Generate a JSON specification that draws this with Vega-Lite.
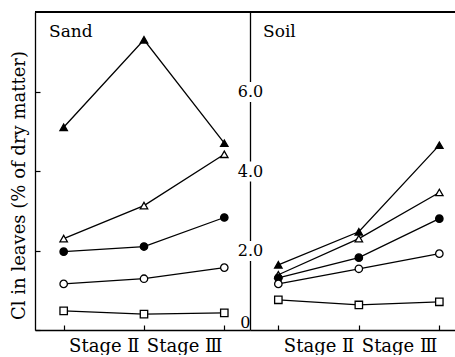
{
  "$schema": "https://vega.github.io/schema/vega-lite/v6.json",
  "padding": {"left": 10, "top": 11, "right": 0, "bottom": 0},
  "bounds": "flush",
  "spacing": 0,
  "config": {
    "view": {"stroke": null},
    "font": "DejaVu Serif",
    "axis": {
      "domainColor": "black", "tickColor": "black", "labelColor": "black", "titleColor": "black",
      "domainWidth": 1.3, "tickWidth": 1.2, "labelFont": "DejaVu Serif", "titleFont": "DejaVu Serif",
      "grid": false, "labelFlush": false, "labelOverlap": false
    },
    "title": {"font": "DejaVu Serif", "fontWeight": "normal", "color": "black"}
  },
  "datasets": {
    "cl": [
      {"medium": "Sand", "series": "▲", "stage": 1, "cl": 5.1},
      {"medium": "Sand", "series": "▲", "stage": 2, "cl": 7.3},
      {"medium": "Sand", "series": "▲", "stage": 3, "cl": 4.7},
      {"medium": "Sand", "series": "△", "stage": 1, "cl": 2.3},
      {"medium": "Sand", "series": "△", "stage": 2, "cl": 3.13},
      {"medium": "Sand", "series": "△", "stage": 3, "cl": 4.42},
      {"medium": "Sand", "series": "●", "stage": 1, "cl": 1.97},
      {"medium": "Sand", "series": "●", "stage": 2, "cl": 2.1},
      {"medium": "Sand", "series": "●", "stage": 3, "cl": 2.83},
      {"medium": "Sand", "series": "○", "stage": 1, "cl": 1.16},
      {"medium": "Sand", "series": "○", "stage": 2, "cl": 1.29},
      {"medium": "Sand", "series": "○", "stage": 3, "cl": 1.57},
      {"medium": "Sand", "series": "□", "stage": 1, "cl": 0.48},
      {"medium": "Sand", "series": "□", "stage": 2, "cl": 0.4},
      {"medium": "Sand", "series": "□", "stage": 3, "cl": 0.43},
      {"medium": "Soil", "series": "▲", "stage": 1, "cl": 1.64},
      {"medium": "Soil", "series": "▲", "stage": 2, "cl": 2.47},
      {"medium": "Soil", "series": "▲", "stage": 3, "cl": 4.65},
      {"medium": "Soil", "series": "△", "stage": 1, "cl": 1.39},
      {"medium": "Soil", "series": "△", "stage": 2, "cl": 2.3},
      {"medium": "Soil", "series": "△", "stage": 3, "cl": 3.46},
      {"medium": "Soil", "series": "●", "stage": 1, "cl": 1.31},
      {"medium": "Soil", "series": "●", "stage": 2, "cl": 1.82},
      {"medium": "Soil", "series": "●", "stage": 3, "cl": 2.8},
      {"medium": "Soil", "series": "○", "stage": 1, "cl": 1.16},
      {"medium": "Soil", "series": "○", "stage": 2, "cl": 1.54},
      {"medium": "Soil", "series": "○", "stage": 3, "cl": 1.92},
      {"medium": "Soil", "series": "□", "stage": 1, "cl": 0.76},
      {"medium": "Soil", "series": "□", "stage": 2, "cl": 0.63},
      {"medium": "Soil", "series": "□", "stage": 3, "cl": 0.71}
    ]
  },
  "hconcat": [
    {
      "width": 215,
      "height": 318,
      "title": {"text": "Sand", "anchor": "start", "frame": "group", "offset": -43, "dx": 14, "baseline": "alphabetic", "fontSize": 17, "font": "DejaVu Serif", "fontWeight": "normal"},
      "data": {"name": "cl"},
      "transform": [{"filter": "datum.medium == 'Sand'"}],
      "layer": [
        {
          "mark": {"type": "rule", "color": "black", "strokeWidth": 1.3},
          "encoding": {"y": {"datum": 8, "type": "quantitative"}}
        },
        {
          "mark": {"type": "line", "color": "black", "strokeWidth": 1.3},
          "encoding": {
            "x": {"field": "stage", "type": "quantitative",
              "scale": {"domain": [0.643, 3.32], "nice": false, "zero": false},
              "axis": {"orient": "bottom", "values": [1, 1.5, 2, 2.5, 3],
                "labelExpr": "datum.value == 1.5 ? 'Stage Ⅱ' : datum.value == 2.5 ? 'Stage Ⅲ' : ''",
                "tickSize": -5,
                "tickOpacity": {"condition": {"test": "datum.value == 1.5 || datum.value == 2.5", "value": 0}, "value": 1},
                "labelPadding": 12, "labelFontSize": 18, "labelFont": "DejaVu Serif", "labelFontWeight": "normal", "title": null}},
            "y": {"field": "cl", "type": "quantitative",
              "scale": {"domain": [0, 8], "nice": false},
              "axis": {"orient": "left", "values": [0, 2, 4, 6], "labels": false, "tickSize": -5,
                "title": "Cl in leaves (% of dry matter)", "titleFontSize": 18, "titleFont": "DejaVu Serif", "titleFontWeight": "normal",
                "titlePadding": 6, "titleY": 173}},
            "detail": {"field": "series"}
          }
        },
        {
          "mark": {"type": "point", "filled": true, "stroke": "black", "strokeWidth": 1.3, "opacity": 1},
          "encoding": {
            "x": {"field": "stage", "type": "quantitative"},
            "y": {"field": "cl", "type": "quantitative"},
            "shape": {"field": "series", "type": "nominal", "legend": null,
              "scale": {"domain": ["▲", "△", "●", "○", "□"], "range": ["triangle-up", "triangle-up", "circle", "circle", "square"]}},
            "fill": {"field": "series", "type": "nominal", "legend": null,
              "scale": {"domain": ["▲", "△", "●", "○", "□"], "range": ["black", "white", "black", "white", "white"]}},
            "size": {"field": "series", "type": "nominal", "legend": null,
              "scale": {"domain": ["▲", "△", "●", "○", "□"], "range": [55, 55, 75, 85, 50]}}
          }
        }
      ]
    },
    {
      "width": 206,
      "height": 318,
      "title": {"text": "Soil", "anchor": "start", "frame": "group", "offset": -43, "dx": 13, "baseline": "alphabetic", "fontSize": 17, "font": "DejaVu Serif", "fontWeight": "normal"},
      "data": {"name": "cl"},
      "transform": [{"filter": "datum.medium == 'Soil'"}],
      "layer": [
        {
          "mark": {"type": "rule", "color": "black", "strokeWidth": 1.3},
          "encoding": {"y": {"datum": 8, "type": "quantitative"}}
        },
        {
          "mark": {"type": "line", "color": "black", "strokeWidth": 1.3},
          "encoding": {
            "x": {"field": "stage", "type": "quantitative",
              "scale": {"domain": [0.648, 3.207], "nice": false, "zero": false},
              "axis": {"orient": "bottom", "values": [1, 1.5, 2, 2.5, 3],
                "labelExpr": "datum.value == 1.5 ? 'Stage Ⅱ' : datum.value == 2.5 ? 'Stage Ⅲ' : ''",
                "tickSize": -5,
                "tickOpacity": {"condition": {"test": "datum.value == 1.5 || datum.value == 2.5", "value": 0}, "value": 1},
                "labelPadding": 12, "labelFontSize": 18, "labelFont": "DejaVu Serif", "labelFontWeight": "normal", "title": null}},
            "y": {"field": "cl", "type": "quantitative",
              "scale": {"domain": [0, 8], "nice": false},
              "axis": {"orient": "left", "values": [0, 2, 4, 6], "ticks": false, "tickSize": 0, "labelPadding": 0,
                "labelAlign": {"condition": {"test": "datum.value == 0", "value": "right"}, "value": "center"},
                "labelBaseline": {"condition": {"test": "datum.value == 0", "value": "bottom"}, "value": "middle"},
                "labelExpr": "datum.value == 0 ? '0' : format(datum.value, '.1f')",
                "labelFontSize": 16, "labelFont": "DejaVu Serif",
                "domainDash": [69.5, 20, 59.5, 20, 59.5, 20, 69.5],
                "title": null}},
            "detail": {"field": "series"}
          }
        },
        {
          "mark": {"type": "point", "filled": true, "stroke": "black", "strokeWidth": 1.3, "opacity": 1},
          "encoding": {
            "x": {"field": "stage", "type": "quantitative"},
            "y": {"field": "cl", "type": "quantitative"},
            "shape": {"field": "series", "type": "nominal", "legend": null,
              "scale": {"domain": ["▲", "△", "●", "○", "□"], "range": ["triangle-up", "triangle-up", "circle", "circle", "square"]}},
            "fill": {"field": "series", "type": "nominal", "legend": null,
              "scale": {"domain": ["▲", "△", "●", "○", "□"], "range": ["black", "white", "black", "white", "white"]}},
            "size": {"field": "series", "type": "nominal", "legend": null,
              "scale": {"domain": ["▲", "△", "●", "○", "□"], "range": [55, 55, 75, 85, 50]}}
          }
        }
      ]
    }
  ]
}
